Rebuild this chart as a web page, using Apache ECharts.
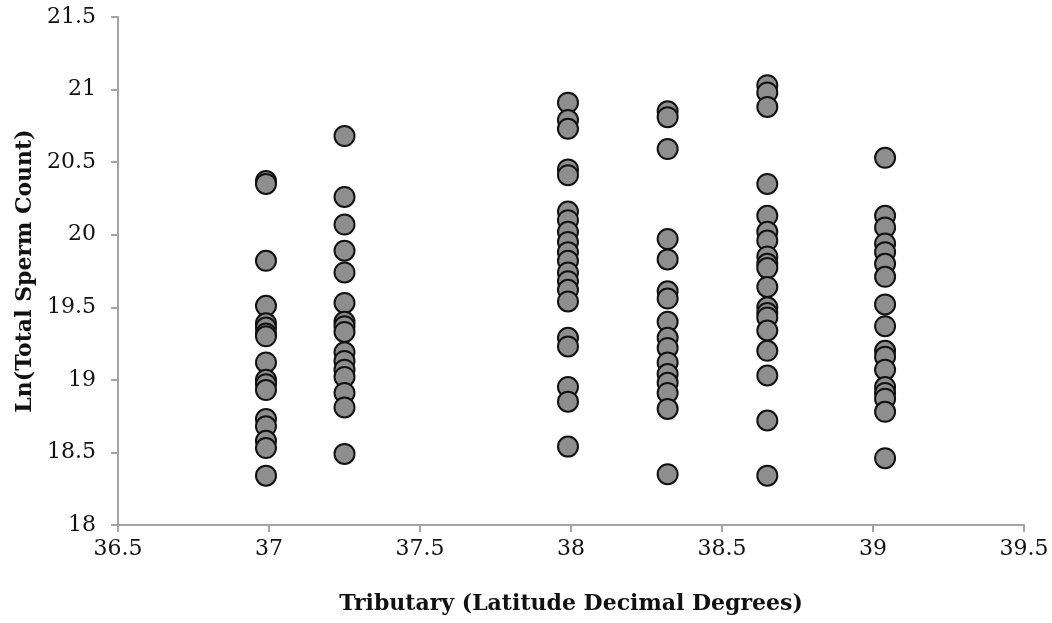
<!DOCTYPE html>
<html>
<head>
<meta charset="utf-8">
<title>Ln(Total Sperm Count) by tributary latitude</title>
<script src="https://cdn.jsdelivr.net/npm/echarts@6/dist/echarts.min.js"></script>
<style>
  html, body { margin: 0; padding: 0; background: #ffffff; }
  #chart { width: 1052px; height: 623px; }
</style>
</head>
<body>
<div id="chart"></div>
<script>
// Tributary latitudes (decimal degrees), one per sampled stream
const latitudes = [36.99, 37.25, 37.99, 38.32, 38.65, 39.04];

// Ln(total sperm count) for each fish, grouped by tributary
const lnCount3699 = [20.37, 20.35, 19.82, 19.51, 19.39, 19.36, 19.32, 19.30, 19.12,
  19.00, 18.97, 18.93, 18.73, 18.68, 18.58, 18.53, 18.34];
const lnCount3725 = [20.68, 20.26, 20.07, 19.89, 19.74, 19.53, 19.40, 19.37, 19.33,
  19.19, 19.13, 19.07, 19.02, 18.91, 18.81, 18.49];
const lnCount3799 = [20.91, 20.79, 20.73, 20.45, 20.41, 20.16, 20.10, 20.02, 19.95,
  19.88, 19.82, 19.74, 19.68, 19.62, 19.54, 19.29, 19.23, 18.95, 18.85, 18.54];
const lnCount3832 = [20.85, 20.81, 20.59, 19.97, 19.83, 19.61, 19.56, 19.40, 19.29,
  19.22, 19.12, 19.04, 18.98, 18.91, 18.80, 18.35];
const lnCount3865 = [21.03, 20.98, 20.88, 20.35, 20.13, 20.02, 19.96, 19.85, 19.80,
  19.77, 19.64, 19.50, 19.46, 19.43, 19.34, 19.20, 19.03, 18.72, 18.34];
const lnCount3904 = [20.53, 20.13, 20.05, 19.94, 19.88, 19.80, 19.71, 19.52, 19.37,
  19.20, 19.16, 19.07, 18.95, 18.91, 18.87, 18.78, 18.46];

// Axis extents and tick steps
const xMin = 36.5, xMax = 39.5, xStep = 0.5;
const yMin = 18, yMax = 21.5, yStep = 0.5;

const groups = [lnCount3699, lnCount3725, lnCount3799, lnCount3832, lnCount3865, lnCount3904];
const points = [];
groups.forEach((vals, i) => {
  vals.forEach(v => points.push([latitudes[i], v]));
});

const axisGray = '#a3a3a3';
const textFont = '"DejaVu Serif", "Liberation Serif", serif';

const chart = echarts.init(document.getElementById('chart'), null, { renderer: 'canvas' });
chart.setOption({
  animation: false,
  backgroundColor: '#ffffff',
  grid: { left: 118, right: 28, top: 17, bottom: 98, containLabel: false },
  xAxis: {
    type: 'value',
    min: xMin, max: xMax, interval: xStep,
    name: 'Tributary (Latitude Decimal Degrees)',
    nameLocation: 'middle',
    nameGap: 68,
    nameTextStyle: { fontFamily: textFont, fontWeight: 'bold', fontSize: 22, color: '#111' },
    axisLine: { show: true, lineStyle: { color: axisGray, width: 2 } },
    axisTick: { show: true, inside: false, length: 7, lineStyle: { color: axisGray, width: 2 } },
    axisLabel: { margin: 13, fontFamily: textFont, fontSize: 22, color: '#111' },
    splitLine: { show: false }
  },
  yAxis: {
    type: 'value',
    min: yMin, max: yMax, interval: yStep,
    name: 'Ln(Total Sperm Count)',
    nameLocation: 'middle',
    nameRotate: 90,
    nameGap: 82,
    nameTextStyle: { fontFamily: textFont, fontWeight: 'bold', fontSize: 22, color: '#111' },
    axisLine: { show: true, lineStyle: { color: axisGray, width: 2 } },
    axisTick: { show: true, inside: false, length: 7, lineStyle: { color: axisGray, width: 2 } },
    axisLabel: { margin: 22, fontFamily: textFont, fontSize: 22, color: '#111' },
    splitLine: { show: false }
  },
  series: [{
    type: 'scatter',
    data: points,
    symbol: 'circle',
    symbolSize: 20,
    itemStyle: { color: '#8e8e8e', borderColor: '#111111', borderWidth: 2, opacity: 1 },
    emphasis: { disabled: true }
  }]
});
</script>
</body>
</html>
